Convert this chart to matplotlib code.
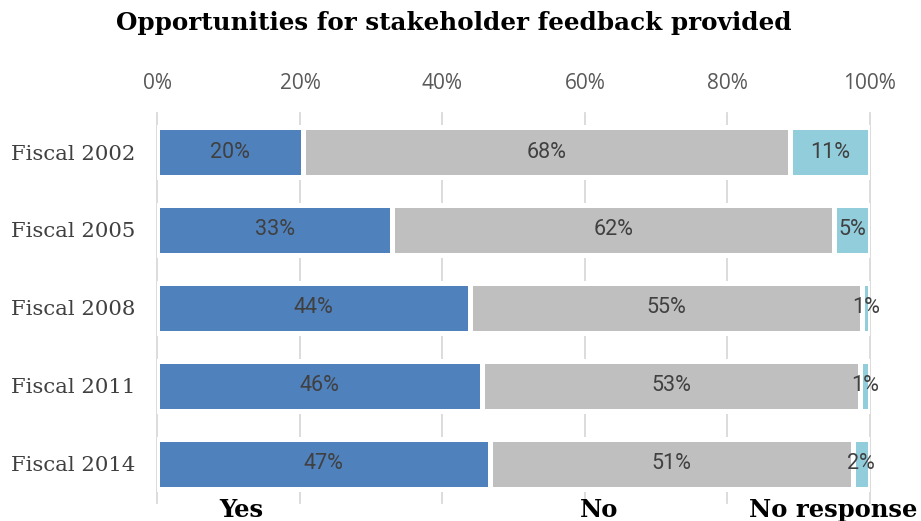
import matplotlib
matplotlib.use("Agg")
import matplotlib.pyplot as plt
import matplotlib.transforms as mtransforms

years = ["Fiscal 2002", "Fiscal 2005", "Fiscal 2008", "Fiscal 2011", "Fiscal 2014"]
yes = [20.4, 32.9, 43.9, 45.6, 46.7]
no = [68.4, 62.1, 55.0, 53.0, 50.9]
no_response = [11.2, 5.0, 1.1, 1.4, 2.4]
series_names = ["Yes", "No", "No response"]
colors = ["#4f81bd", "#bfbfbf", "#92cddc"]
xticks = [0, 20, 40, 60, 80, 100]

fig = plt.figure(figsize=(9.21, 5.21), dpi=100)
ax = fig.add_axes([0.171, 0.035, 0.7735, 0.748])

pos = list(range(len(years)))
left = [0.0] * len(years)
for name, vals, c in zip(series_names, [yes, no, no_response], colors):
    bars = ax.barh(pos, vals, left=left, height=0.64, color=c,
                   edgecolor="white", linewidth=3.6, zorder=2, label=name)
    ax.bar_label(bars, labels=[f"{v:.0f}%" for v in vals], label_type="center",
                 color="#404040", fontsize=15.5, family="Roboto")
    left = [l + v for l, v in zip(left, vals)]

ax.set_xlim(0, 100)
ax.set_ylim(4.5, -0.5)
ax.xaxis.tick_top()
ax.set_xticks(xticks)
ax.set_xticklabels([f"{t}%" for t in xticks], color="#595959", fontsize=15,
                   family="Open Sans")
ax.set_yticks(pos)
ax.set_yticklabels(years, family="DejaVu Serif", fontsize=15.3, color="#404040")
ax.tick_params(axis="x", length=0, pad=14)
ax.tick_params(axis="y", length=0, pad=16)

ax.grid(axis="x", color="#d9d9d9", linewidth=1.3, zorder=0)
ax.set_axisbelow(True)
for line in ax.get_xgridlines():
    line.set_clip_on(False)
for side in ["top", "bottom", "left", "right"]:
    ax.spines[side].set_visible(False)

fig.suptitle("Opportunities for stakeholder feedback provided", x=0.493, y=0.978,
             family="DejaVu Serif", fontweight="bold", fontsize=17.7)

# series names under the bars
trans = mtransforms.blended_transform_factory(ax.transData, fig.transFigure)
for name, xpos in zip(series_names, [11.8, 62.0, 94.8]):
    ax.text(xpos, 0.022, name, transform=trans, ha="center", va="center",
            family="DejaVu Serif", fontweight="bold", fontsize=17.5, color="black")

fig.savefig("out.png", dpi=100)
